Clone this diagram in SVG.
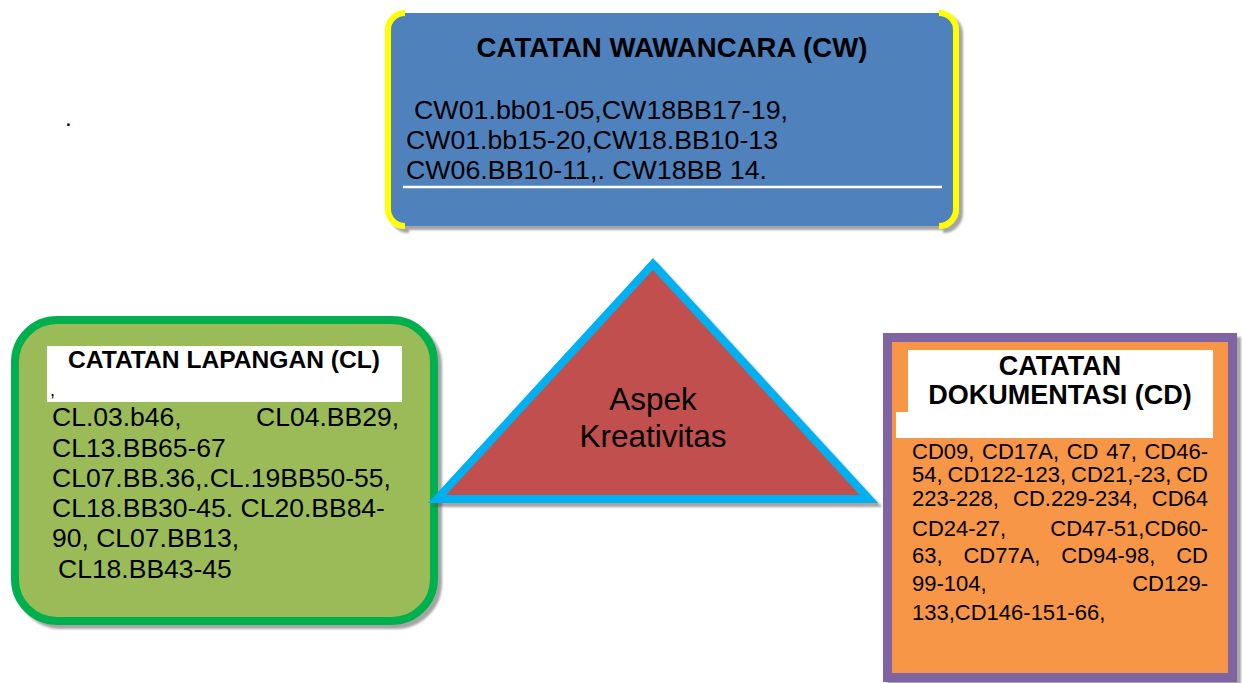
<svg xmlns="http://www.w3.org/2000/svg" width="1242" height="683" viewBox="0 0 1242 683">
  <style>
    .t { font-family: "Liberation Sans", Arial, sans-serif; fill: #000; }
    .b { font-weight: bold; }
    .body { font-size: 26.5px; }
    .cd { font-size: 22px; }
  </style>
  <defs>
    <filter id="shadow" x="-10%" y="-10%" width="125%" height="125%">
      <feDropShadow dx="4" dy="4" stdDeviation="0.8" flood-color="#4a4a4a" flood-opacity="0.5"/>
    </filter>
  </defs>

  <rect width="1242" height="683" fill="#ffffff"/>

  <!-- stray full stop -->
  <text class="t" x="65" y="126" font-size="24">.</text>

  <!-- interview notes -->
  <g id="cw">
    <g filter="url(#shadow)">
      <rect x="388" y="13" width="568" height="213" rx="17" fill="#4f81bd"/>
      <path d="M405 13 A17 17 0 0 0 388 30 L388 209 A17 17 0 0 0 405 226" fill="none" stroke="#ffff00" stroke-width="6"/>
      <path d="M939 13 A17 17 0 0 1 956 30 L956 209 A17 17 0 0 1 939 226" fill="none" stroke="#ffff00" stroke-width="6"/>
    </g>
    <text class="t b" x="672" y="57" font-size="27.6" text-anchor="middle">CATATAN WAWANCARA (CW)</text>
    <text class="t body" x="414" y="119" textLength="374" lengthAdjust="spacingAndGlyphs">CW01.bb01-05,CW18BB17-19,</text>
    <text class="t body" x="406" y="149" textLength="372" lengthAdjust="spacingAndGlyphs">CW01.bb15-20,CW18.BB10-13</text>
    <text class="t body" x="406" y="179" textLength="361" lengthAdjust="spacingAndGlyphs">CW06.BB10-11,. CW18BB 14.</text>
    <line x1="403" y1="187" x2="942" y2="187" stroke="#ffffff" stroke-width="2.5"/>
  </g>

  <!-- field notes -->
  <g id="cl">
    <rect x="15" y="320" width="419" height="301" rx="42" fill="#9bbb59" stroke="#00b050" stroke-width="8" filter="url(#shadow)"/>
    <rect x="47" y="346" width="355" height="56" fill="#ffffff"/>
    <text class="t b" x="224" y="368" font-size="24.6" text-anchor="middle">CATATAN LAPANGAN (CL)</text>
    <text class="t" x="50" y="396" font-size="18">,</text>
    <text class="t body" x="52" y="426">CL.03.b46,</text>
    <text class="t body" x="399" y="426" text-anchor="end">CL04.BB29,</text>
    <text class="t body" x="52" y="457">CL13.BB65-67</text>
    <text class="t body" x="52" y="487">CL07.BB.36,.CL.19BB50-55,</text>
    <text class="t body" x="52" y="517">CL18.BB30-45. CL20.BB84-</text>
    <text class="t body" x="52" y="547">90, CL07.BB13,</text>
    <text class="t body" x="58" y="578">CL18.BB43-45</text>
  </g>

  <!-- central aspect -->
  <g id="aspek">
    <polygon points="653,264 437,499 869,499" fill="#c0504d" stroke="#00b0f0" stroke-width="8" filter="url(#shadow)"/>
    <text class="t" x="653" y="410" font-size="31.5" text-anchor="middle">Aspek</text>
    <text class="t" x="653" y="447" font-size="31.5" text-anchor="middle">Kreativitas</text>
  </g>

  <!-- documentation notes -->
  <g id="cd">
    <rect x="887.5" y="337.5" width="345" height="340" fill="#f79646" stroke="#8064a2" stroke-width="9" filter="url(#shadow)"/>
    <polygon points="908,350 1213,350 1213,438 896,438 896,412 908,412" fill="#ffffff"/>
    <text class="t b" x="1060" y="375" font-size="27" text-anchor="middle">CATATAN</text>
    <text class="t b" x="1060" y="404" font-size="27" text-anchor="middle">DOKUMENTASI (CD)</text>

    <!-- justified lines: words placed individually, last word flush right -->
    <text class="t cd" y="459"><tspan x="912">CD09,</tspan><tspan x="982">CD17A,</tspan><tspan x="1066.7">CD</tspan><tspan x="1106.2">47,</tspan></text>
    <text class="t cd" x="1208" y="459" text-anchor="end">CD46-</text>

    <text class="t cd" y="482"><tspan x="912">54,</tspan><tspan x="947.5">CD122-123,</tspan><tspan x="1071">CD21,-23,</tspan></text>
    <text class="t cd" x="1208" y="482" text-anchor="end">CD</text>

    <text class="t cd" y="506"><tspan x="912">223-228,</tspan><tspan x="1013">CD.229-234,</tspan></text>
    <text class="t cd" x="1208" y="506" text-anchor="end">CD64</text>

    <text class="t cd" x="912" y="536">CD24-27,</text>
    <text class="t cd" x="1208" y="536" text-anchor="end">CD47-51,CD60-</text>

    <text class="t cd" y="563"><tspan x="912">63,</tspan><tspan x="963.4">CD77A,</tspan><tspan x="1061.3">CD94-98,</tspan></text>
    <text class="t cd" x="1208" y="563" text-anchor="end">CD</text>

    <text class="t cd" x="912" y="591">99-104,</text>
    <text class="t cd" x="1208" y="591" text-anchor="end">CD129-</text>

    <text class="t cd" x="912" y="620">133,CD146-151-66,</text>
  </g>
</svg>
